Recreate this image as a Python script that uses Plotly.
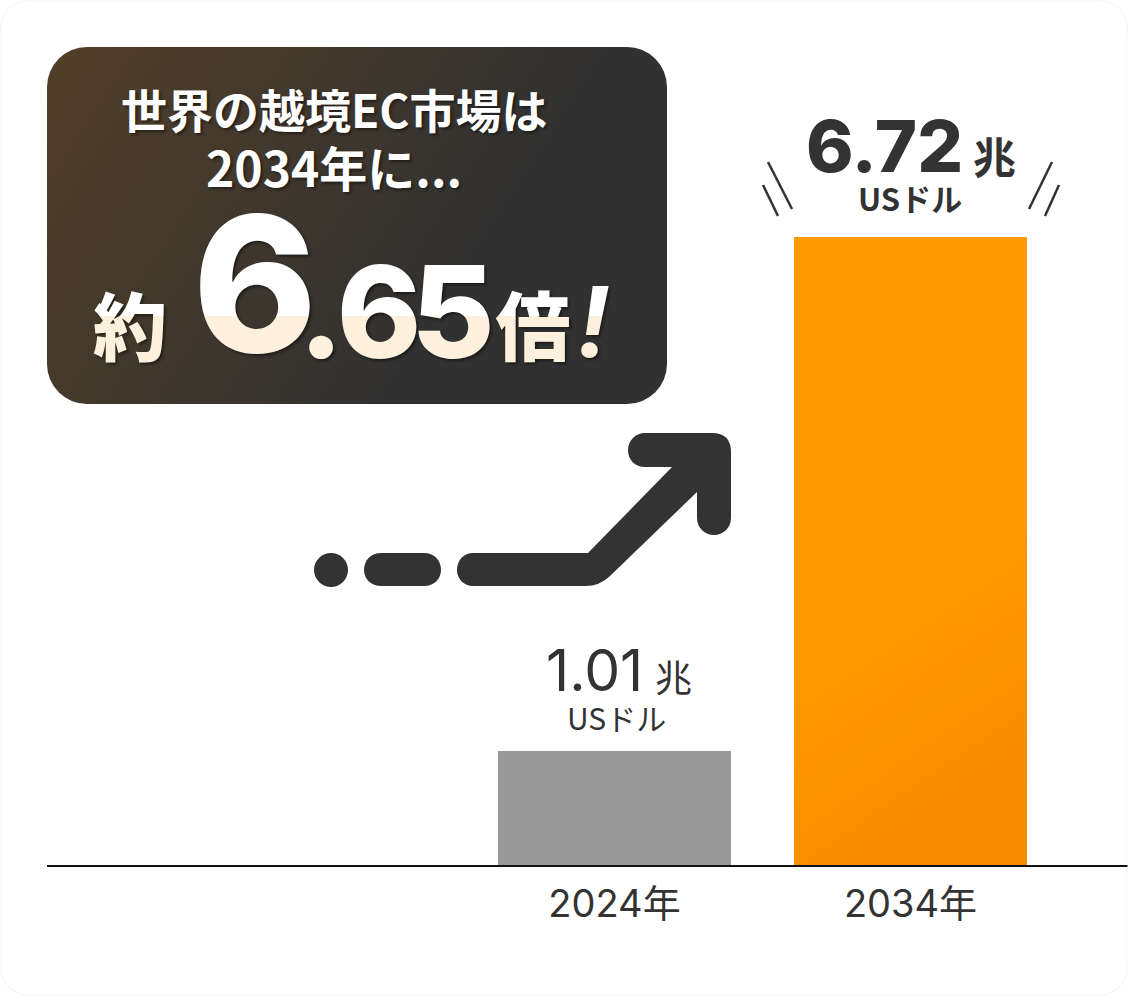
import plotly.graph_objects as go
from urllib.parse import quote

W, H = 1128, 996

# values
years = ["2024年", "2034年"]
bar_heights = [1.22, 6.72]  # as drawn in the picture, the 2024 bar is not to scale
value_labels = ["1.01", "6.72"]
unit_big = "兆"
unit_small = "USドル"
bar_colors = ["#999999", "#ff9900"]

headline = ["世界の越境EC市場は", "2034年に..."]
big_text = ["約", "6", ".", "6", "5", "倍", "!"]
big_x = [130, 255, 321, 379, 453, 533, 593]
big_y = [336, 305, 326, 326, 326, 336, 332]
big_size = [74, 188, 128, 128, 128, 75, 100]
big_family = ["Noto Sans CJK JP", "Inter", "Inter", "Inter", "Inter", "Noto Sans CJK JP", "Roboto"]
big_style = ["normal", "normal", "normal", "normal", "normal", "normal", "italic"]

DARK = "#333333"
JP = "Noto Sans CJK JP"
SHADOW = "2px 2px 3px rgba(0,0,0,0.45)"
SCALE = 628 / 6.72  # pixels per unit on the bar axis


def xp(px):
    return px / W


def yp(px):
    return 1 - px / H


panel_svg = (
    '<svg xmlns="http://www.w3.org/2000/svg" width="620" height="357" viewBox="0 0 620 357">'
    '<defs><linearGradient id="g" gradientUnits="userSpaceOnUse" x1="0" y1="0" x2="400" y2="260">'
    '<stop offset="0" stop-color="#523f28"/><stop offset="1" stop-color="#313131"/>'
    '</linearGradient></defs><rect width="620" height="357" rx="40" fill="url(#g)"/></svg>'
)
bar_svg = (
    '<svg xmlns="http://www.w3.org/2000/svg" width="233" height="627" viewBox="0 0 233 627" '
    'preserveAspectRatio="none"><defs><linearGradient id="o" x1="0.4" y1="0.6" x2="0.5" y2="1">'
    '<stop offset="0" stop-color="#e87a00" stop-opacity="0"/>'
    '<stop offset="1" stop-color="#e87a00" stop-opacity="0.45"/>'
    '</linearGradient></defs><rect width="233" height="627" fill="url(#o)"/></svg>'
)

fig = go.Figure()

fig.add_trace(go.Bar(
    x=years, y=bar_heights, width=233 / 296,
    marker=dict(color=bar_colors, line=dict(width=0)),
    hoverinfo="skip", showlegend=False,
))

# big number, drawn twice and clipped so the lower part turns cream
fig.add_trace(go.Scatter(
    x=big_x, y=big_y, text=big_text, mode="text", xaxis="x2", yaxis="y2",
    textposition="middle center", cliponaxis=True, showlegend=False, hoverinfo="skip",
    textfont=dict(family=big_family, size=big_size, color="#ffffff", weight=800, style=big_style, shadow=SHADOW),
))
fig.add_trace(go.Scatter(
    x=big_x, y=big_y, text=big_text, mode="text", xaxis="x3", yaxis="y3",
    textposition="middle center", cliponaxis=True, showlegend=False, hoverinfo="skip",
    textfont=dict(family=big_family, size=big_size, color="#fdf0dc", weight=800, style=big_style, shadow=SHADOW),
))

# arrow
shapes = [
    dict(type="circle", xref="paper", yref="paper", x0=xp(314), x1=xp(348), y0=yp(553), y1=yp(587),
         fillcolor=DARK, line_width=0),
    dict(type="path", xref="x4", yref="y4", fillcolor=DARK, line_width=0,
         path="M381,553 L424,553 C434,553 441,560 441,570 C441,579 434,586 424,586 L381,586 "
              "C371,586 364,579 364,570 C364,560 371,553 381,553 Z"),
    dict(type="path", xref="x4", yref="y4", fillcolor=DARK, line_width=0,
         path="M473,553 L588,553 L672,467 L645,467 C635,467 628,460 628,450 C628,441 635,433 645,433 "
              "L712,433 Q731,433 731,452 L731,518 C731,528 723,535 714,535 C705,535 697,528 697,518 "
              "L697,492 L610,576 Q600,586 585,586 L473,586 C464,586 457,579 457,570 C457,560 464,553 473,553 Z"),
]
# emphasis ticks around the 6.72 label
for x0, y0, x1, y1 in [(768, 162, 792, 209), (763, 185, 778, 216), (1052, 162, 1029, 209), (1059, 185, 1045, 216)]:
    shapes.append(dict(type="line", xref="x4", yref="y4", x0=x0, y0=y0, x1=x1, y1=y1,
                       line=dict(color=DARK, width=2.5)))
# faint card outline
shapes.append(dict(type="path", xref="x4", yref="y4", line=dict(color="#f4f4f4", width=1),
                   path="M0,35 Q0,0 35,0 L1093,0 Q1128,0 1128,35 L1128,961 Q1128,996 1093,996 "
                        "L35,996 Q0,996 0,961 Z"))

annotations = [
    dict(text=f"<b>{headline[0]}</b>", x=xp(334), y=yp(108), font=dict(family=JP, size=46, color="#ffffff", shadow=SHADOW)),
    dict(text=f"<b>{headline[1]}</b>", x=xp(334), y=yp(166), font=dict(family=JP, size=48, color="#ffffff", shadow=SHADOW)),
]
for a in annotations:
    a.update(xref="paper", yref="paper", showarrow=False, xanchor="center", yanchor="middle")

# labels over the bars, offset from the bar tops
label_specs = [
    (0, value_labels[0], 594, 670, "Inter", 57, 400),
    (0, unit_big, 673, 676, JP, 37, 400),
    (0, unit_small, 616, 717, JP, 30, 400),
    (1, value_labels[1], 884, 145, "Inter", 72, 800),
    (1, unit_big, 994, 155, JP, 43, 700),
    (1, unit_small, 910, 197, JP, 31, 700),
]
for i, text, px, py, fam, size, weight in label_specs:
    annotations.append(dict(
        text=text, xref="x", yref="y", x=i, y=bar_heights[i], showarrow=False,
        xanchor="center", yanchor="middle",
        xshift=px - (614.5 + 296 * i), yshift=(865 - bar_heights[i] * SCALE) - py,
        font=dict(family=fam, size=size, color=DARK, weight=weight),
    ))

axis_off = dict(visible=False, fixedrange=True)
fig.update_layout(
    width=W, height=H, autosize=False,
    margin=dict(l=0, r=0, t=0, b=0),
    paper_bgcolor="white", plot_bgcolor="rgba(0,0,0,0)",
    showlegend=False, bargap=0,
    xaxis=dict(
        domain=[47 / W, 1], type="category", categoryorder="array", categoryarray=years,
        range=[(47 - 614.5) / 296, (W - 614.5) / 296], fixedrange=True,
        showline=True, linecolor="#111111", linewidth=2, showgrid=False, zeroline=False,
        ticks="", ticklabelstandoff=4,
        tickfont=dict(family="Inter, Noto Sans CJK JP", size=38, color=DARK),
    ),
    yaxis=dict(domain=[(H - 865) / H, 1], range=[0, 865 / SCALE], visible=False, fixedrange=True),
    # white top part of the big number
    xaxis2=dict(domain=[xp(47), xp(667)], range=[47, 667], anchor="y2", **axis_off),
    yaxis2=dict(domain=[yp(316), yp(190)], range=[316, 190], anchor="x2", **axis_off),
    # cream lower part
    xaxis3=dict(domain=[xp(47), xp(667)], range=[47, 667], anchor="y3", **axis_off),
    yaxis3=dict(domain=[yp(404), yp(316)], range=[404, 316], anchor="x3", **axis_off),
    # page pixel axes for decoration
    xaxis4=dict(domain=[0, 1], range=[0, W], anchor="y4", **axis_off),
    yaxis4=dict(domain=[0, 1], range=[H, 0], anchor="x4", **axis_off),
    shapes=shapes,
    annotations=annotations,
    images=[
        dict(source="data:image/svg+xml," + quote(panel_svg), xref="paper", yref="paper",
             x=xp(47), y=yp(47), sizex=620 / W, sizey=357 / H, sizing="stretch",
             xanchor="left", yanchor="top", layer="below"),
        dict(source="data:image/svg+xml," + quote(bar_svg), xref="x", yref="y",
             x=1, y=bar_heights[1], sizex=233 / 296, sizey=bar_heights[1], sizing="stretch",
             xanchor="center", yanchor="top", layer="above"),
    ],
)
# needs a trace on x4/y4 so the axes exist
fig.add_trace(go.Scatter(x=[], y=[], xaxis="x4", yaxis="y4", showlegend=False, hoverinfo="skip"))

fig.write_html("out.html", config=dict(displayModeBar=False), post_script="document.body.style.margin='0';")
